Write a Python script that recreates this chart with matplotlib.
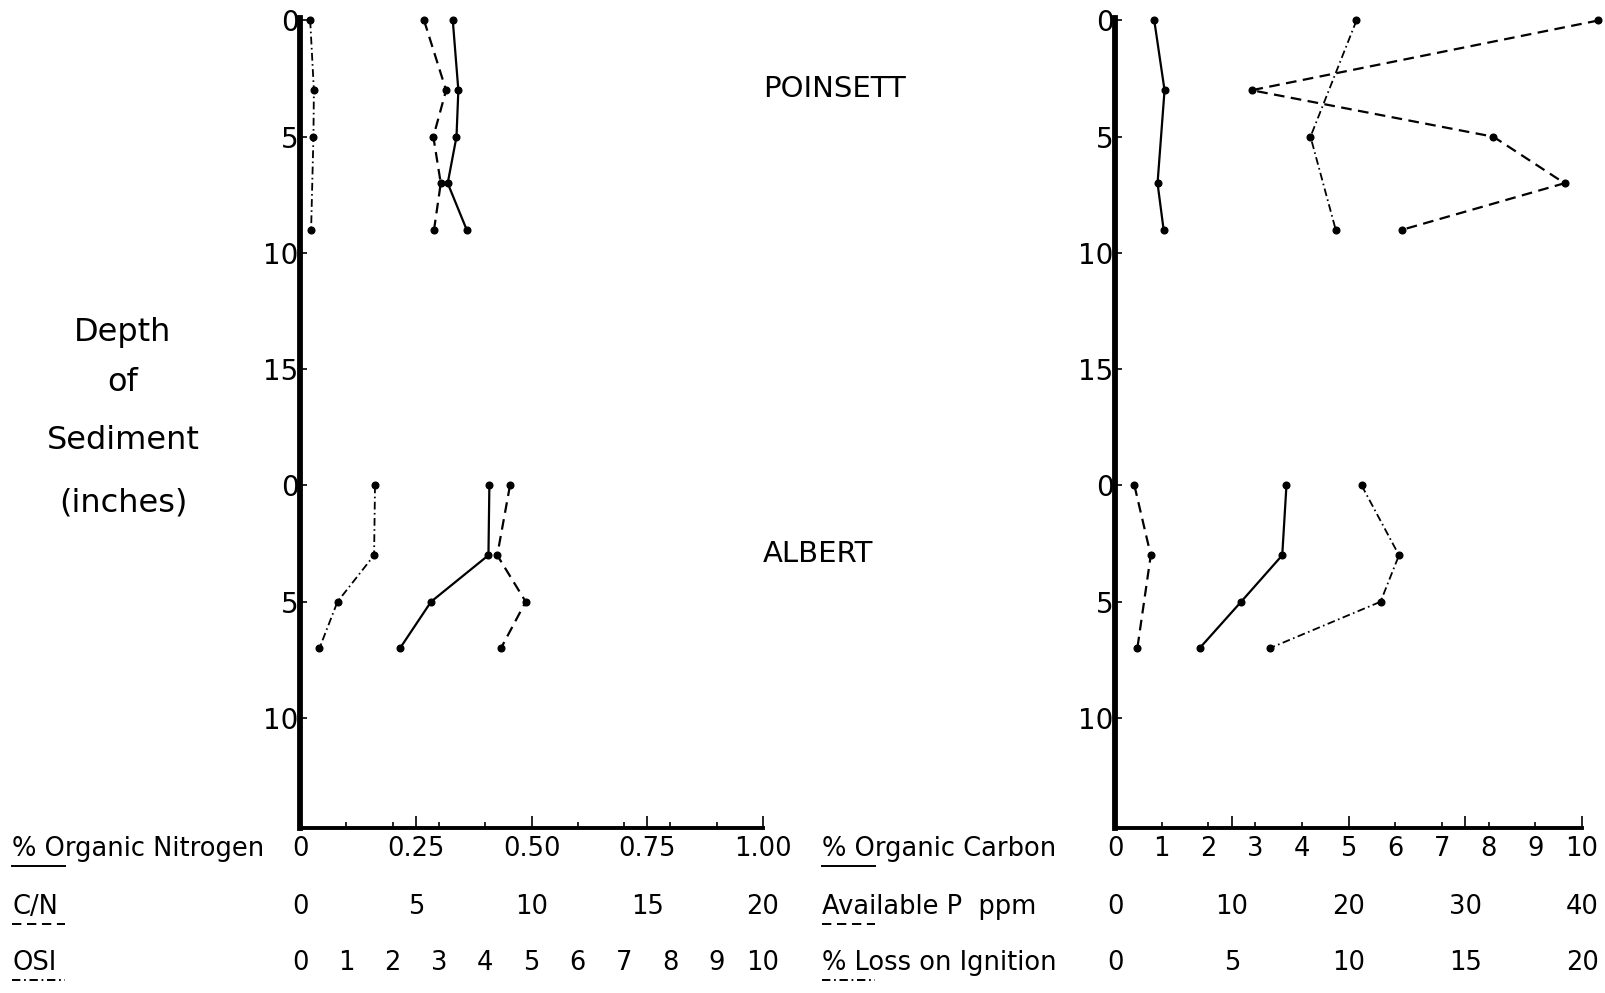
import matplotlib.pyplot as plt
import matplotlib.transforms as mtransforms
from matplotlib.lines import Line2D

plt.rcParams['font.family'] = 'DejaVu Sans'

# sample depths (inches); Albert core is drawn 20 inches lower on the same axis
poinsett_depth = [0, 3, 5, 7, 9]
albert_depth = [0, 3, 5, 7]
albert_offset = 20

# Poinsett - nitrogen panel
poi_n = [0.330, 0.342, 0.338, 0.319, 0.360]      # % organic nitrogen
poi_cn = [5.36, 6.31, 5.76, 6.08, 5.79]          # C/N
poi_osi_depth = [0, 3, 5, 9]
poi_osi = [0.22, 0.30, 0.29, 0.24]               # OSI

# Albert - nitrogen panel
alb_n = [0.409, 0.407, 0.283, 0.216]
alb_cn = [9.07, 8.52, 9.75, 8.68]
alb_osi = [1.62, 1.60, 0.81, 0.42]

# Poinsett - carbon panel
poi_c_depth = [0, 3, 7, 9]
poi_c = [0.84, 1.06, 0.91, 1.04]                 # % organic carbon
poi_p = [41.4, 11.7, 32.4, 38.5, 24.6]           # available P ppm
poi_loi_depth = [0, 5, 9]
poi_loi = [10.34, 8.37, 9.45]                    # % loss on ignition

# Albert - carbon panel
alb_c = [3.67, 3.58, 2.70, 1.81]
alb_p_depth = [0, 3, 7]
alb_p = [1.66, 3.06, 1.91]
alb_loi = [10.56, 12.16, 11.37, 6.62]

depth_ticks = [0, 5, 10, 15, 20, 25, 30]
depth_labels = ['0', '5', '10', '15', '0', '5', '10']

n_ticks = [0, 0.25, 0.5, 0.75, 1.0]
n_labels = ['0', '0.25', '0.50', '0.75', '1.00']
cn_ticks = [0, 5, 10, 15, 20]
osi_ticks = list(range(11))
c_ticks = list(range(11))
p_ticks = [0, 10, 20, 30, 40]
loi_ticks = [0, 5, 10, 15, 20]

SOLID = '-'
DASHED = (0, (4.8, 2.9))
DASHDOT = (0, (4.3, 1.9, 0.9, 1.9))

fig = plt.figure(figsize=(16.06, 9.93), dpi=100)


def panel(rect, xmaxes):
    ax = fig.add_axes(rect)
    ax.set_xlim(0, xmaxes[0])
    ax.set_ylim(34.73, -0.09)
    ax.spines['top'].set_visible(False)
    ax.spines['right'].set_visible(False)
    ax.spines['left'].set_linewidth(4.2)
    ax.spines['bottom'].set_linewidth(2.8)
    ax.set_yticks(depth_ticks, depth_labels)
    ax.tick_params(axis='y', direction='in', length=5, width=1.2,
                   labelsize=20, pad=1)
    top = xmaxes[0]
    ax.set_xticks([top * f for f in (0.25, 0.5, 0.75, 1.0)])
    ax.set_xticks([top * k / 10 for k in range(1, 10)], minor=True)
    ax.tick_params(axis='x', which='major', direction='in', length=9,
                   width=1.2, labelbottom=False)
    ax.tick_params(axis='x', which='minor', direction='in', length=4.5,
                   width=1.2, labelbottom=False)
    axes = [ax]
    for xmax in xmaxes[1:]:
        tw = ax.twiny()
        tw.set_xlim(0, xmax)
        tw.axis('off')
        axes.append(tw)
    return axes


def profile(ax, values, depths, style, offset=0, lw=1.6):
    ax.plot(values, [d + offset for d in depths], color='black',
            linestyle=style, linewidth=lw, marker='o', markersize=4.8,
            clip_on=False)


def label_row(ax, ticks, labels, y):
    trans = mtransforms.blended_transform_factory(ax.transData, fig.transFigure)
    for t, s in zip(ticks, labels):
        ax.text(t, y, s, transform=trans, ha='center', va='baseline',
                fontsize=18.5, clip_on=False)


def row_title(x, y, text, style, y_line):
    fig.text(x, y, text, ha='left', va='baseline', fontsize=18.5)
    fig.add_artist(Line2D([x, x + 0.033], [y_line, y_line],
                          transform=fig.transFigure, color='black',
                          linewidth=1.4, linestyle=style))


row_y = [0.138, 0.0796, 0.0232]
line_y = [0.1279, 0.0695, 0.0131]

# nitrogen panel
ax_n, ax_cn, ax_osi = panel([0.1868, 0.1662, 0.2883, 0.8153], [1.0, 20, 10])
profile(ax_n, poi_n, poinsett_depth, SOLID)
profile(ax_cn, poi_cn, poinsett_depth, DASHED)
profile(ax_osi, poi_osi, poi_osi_depth, DASHDOT, lw=1.3)
profile(ax_n, alb_n, albert_depth, SOLID, albert_offset)
profile(ax_cn, alb_cn, albert_depth, DASHED, albert_offset)
profile(ax_osi, alb_osi, albert_depth, DASHDOT, albert_offset, lw=1.3)

label_row(ax_n, n_ticks, n_labels, row_y[0])
label_row(ax_cn, cn_ticks, [str(t) for t in cn_ticks], row_y[1])
label_row(ax_osi, osi_ticks, [str(t) for t in osi_ticks], row_y[2])

# carbon panel
ax_c, ax_p, ax_loi = panel([0.6943, 0.1662, 0.2908, 0.8153], [10, 40, 20])
profile(ax_c, poi_c, poi_c_depth, SOLID)
profile(ax_p, poi_p, poinsett_depth, DASHED)
profile(ax_loi, poi_loi, poi_loi_depth, DASHDOT, lw=1.3)
profile(ax_c, alb_c, albert_depth, SOLID, albert_offset)
profile(ax_p, alb_p, alb_p_depth, DASHED, albert_offset)
profile(ax_loi, alb_loi, albert_depth, DASHDOT, albert_offset, lw=1.3)

label_row(ax_c, c_ticks, [str(t) for t in c_ticks], row_y[0])
label_row(ax_p, p_ticks, [str(t) for t in p_ticks], row_y[1])
label_row(ax_loi, loi_ticks, [str(t) for t in loi_ticks], row_y[2])

# row titles with line-style keys underneath
row_title(0.0075, row_y[0], '% Organic Nitrogen', SOLID, line_y[0])
row_title(0.0075, row_y[1], 'C/N', DASHED, line_y[1])
row_title(0.0075, row_y[2], 'OSI', DASHDOT, line_y[2])
row_title(0.5118, row_y[0], '% Organic Carbon', SOLID, line_y[0])
row_title(0.5118, row_y[1], 'Available P  ppm', DASHED, line_y[1])
row_title(0.5118, row_y[2], '% Loss on Ignition', DASHDOT, line_y[2])

# lake names
fig.text(0.4751, 0.9104, 'POINSETT', ha='left', va='center', fontsize=21)
fig.text(0.4751, 0.4421, 'ALBERT', ha='left', va='center', fontsize=21)

# depth axis title
for word, y_px in [('Depth', 341), ('of', 391), ('Sediment', 449), ('(inches)', 512)]:
    fig.text(123 / 1606, 1 - y_px / 993, word, ha='center', va='baseline',
             fontsize=23)

fig.savefig('out.png', dpi=100, facecolor='white')
